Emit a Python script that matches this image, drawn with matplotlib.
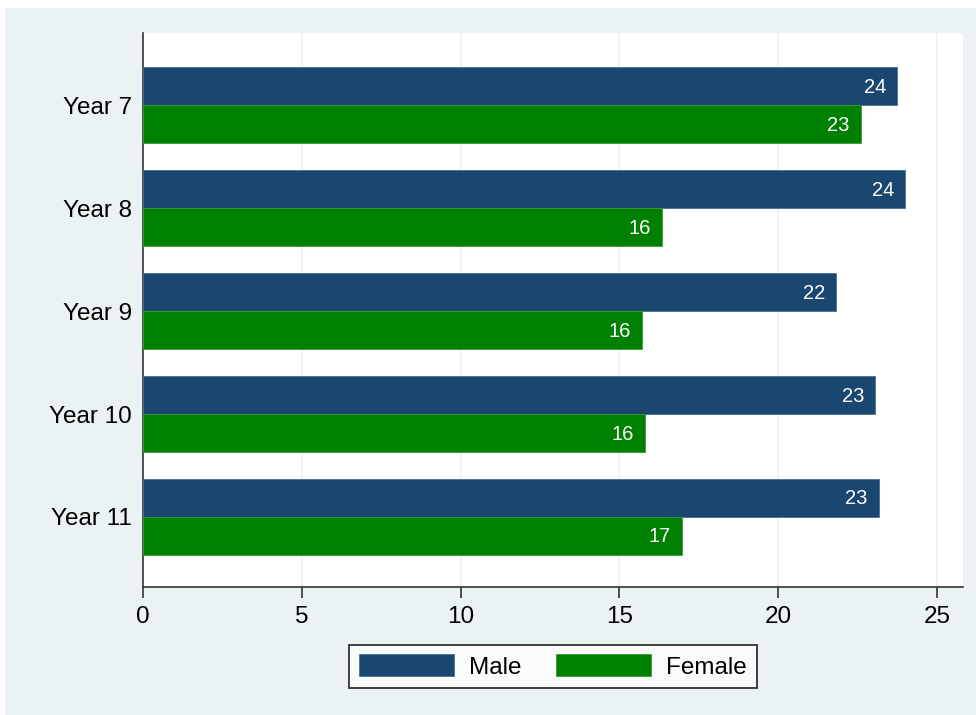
import matplotlib
matplotlib.use("Agg")
import matplotlib.pyplot as plt
from matplotlib.patches import Rectangle
import numpy as np

categories = ["Year 7", "Year 8", "Year 9", "Year 10", "Year 11"]
male = [23.74, 24.0, 21.82, 23.05, 23.17]
female = [22.6, 16.34, 15.71, 15.8, 16.97]
xticks = [0, 5, 10, 15, 20, 25]
series_names = ["Male", "Female"]

plt.rcParams['font.family'] = ['Liberation Sans', 'DejaVu Sans']

bg = "#EAF2F3"
c_male = "#1A476F"
c_female = "#008000"

fig = plt.figure(figsize=(9.76, 7.15), dpi=100)
fig.patches.append(Rectangle((5/976, 0), 1, 1 - 8/715, transform=fig.transFigure,
                             facecolor=bg, edgecolor="none", zorder=-10))

ax = fig.add_axes([143/976, 1 - 587/715, (963 - 143)/976, (587 - 33)/715])
ax.set_facecolor("white")

y = np.arange(len(categories))
h = 0.369
bm = ax.barh(y - h/2, male, height=h, color=c_male, edgecolor="#4a6e91", linewidth=0.6, zorder=3, label=series_names[0])
bf = ax.barh(y + h/2, female, height=h, color=c_female, edgecolor="#3a9a3a", linewidth=0.6, zorder=3, label=series_names[1])

for bars, vals in ((bm, male), (bf, female)):
    for b, v in zip(bars, vals):
        ax.annotate(f"{v:.0f}", xy=(v, b.get_y() + b.get_height()/2), xytext=(-11, -1),
                    textcoords="offset pixels", ha="right", va="center",
                    color="white", fontsize=14.5, zorder=4)

ax.set_xlim(0, 25.82)
ax.set_ylim(4.68, -0.70)
ax.set_yticks(y)
ax.set_yticklabels(categories, fontsize=17.5)
ax.set_xticks(xticks)
ax.set_xticklabels([str(t) for t in xticks], fontsize=17.5)
ax.tick_params(axis="y", length=0, pad=8)
ax.tick_params(axis="x", length=8, width=1.2, color="#333333", pad=6)

for t in xticks[1:]:
    ax.axvline(t, color=bg, linewidth=1.2, zorder=1)

for s in ("top", "right"):
    ax.spines[s].set_visible(False)
for s in ("left", "bottom"):
    ax.spines[s].set_color("#333333")
    ax.spines[s].set_linewidth(1.2)

leg = fig.legend(handles=[bm, bf], labels=series_names, loc="center",
                 bbox_to_anchor=(553/976, 1 - 666.5/715), ncol=2, fontsize=17.5,
                 frameon=True, fancybox=False, handlelength=3.9, handleheight=1.0,
                 handletextpad=0.65, columnspacing=1.4, borderpad=0.4)
leg.get_frame().set_edgecolor("black")
leg.get_frame().set_linewidth(1.3)

fig.savefig("out.png", dpi=100)
